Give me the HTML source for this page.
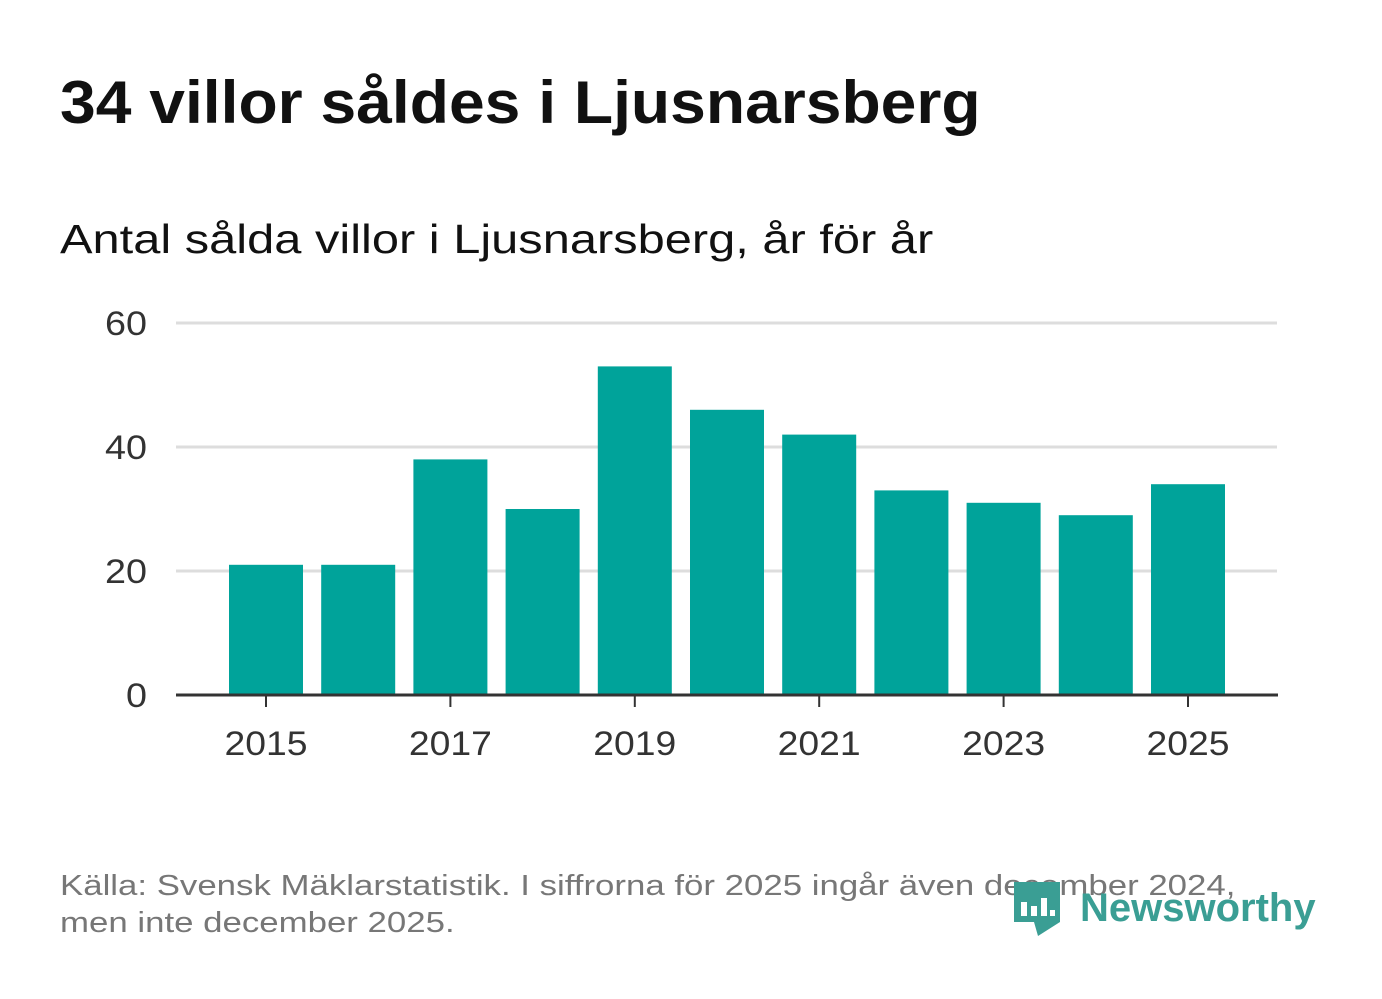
<!DOCTYPE html>
<html><head><meta charset="utf-8"><style>
body{margin:0;width:1382px;height:999px;background:#fff;font-family:"Liberation Sans",sans-serif;overflow:hidden;position:relative}
.t{position:absolute;left:60px;top:68px;font-size:60px;font-weight:bold;color:#111;margin:0;transform:scaleX(1.07);transform-origin:left top;white-space:nowrap}
.s{position:absolute;left:60px;top:216px;font-size:41px;color:#111;transform:scaleX(1.19);transform-origin:left top;white-space:nowrap}
.f{position:absolute;left:60px;top:868px;font-size:29px;color:#777;line-height:37px;transform:scaleX(1.2);transform-origin:left top;white-space:nowrap}
.logo{position:absolute;left:1012px;top:878px;display:flex;align-items:center;color:#3a9e94;font-size:40px;font-weight:bold}
</style></head><body>
<h1 class="t">34 villor såldes i Ljusnarsberg</h1>
<div class="s">Antal sålda villor i Ljusnarsberg, år för år</div>
<svg id="c" width="1382" height="999" style="position:absolute;left:0;top:0"></svg>
<div class="f">Källa: Svensk Mäklarstatistik. I siffrorna för 2025 ingår även december 2024,<br>men inte december 2025.</div>
<div class="logo">
<svg width="50" height="60" viewBox="0 0 50 60"><path d="M2 4h46v40L26 58 22 44H2z" fill="#3a9e94"/><rect x="9" y="24" width="6" height="14" fill="#fff"/><rect x="19" y="28" width="6" height="10" fill="#fff"/><rect x="29" y="20" width="6" height="18" fill="#fff"/><rect x="38" y="32" width="5" height="6" fill="#fff"/></svg>
<span style="margin-left:18px">Newsworthy</span></div>
<script>
const years=[2015,2016,2017,2018,2019,2020,2021,2022,2023,2024,2025];
const values=[21,21,38,30,53,46,42,33,31,29,34];
const yTicks=[0,20,40,60];
const svg=document.getElementById('c');const NS='http://www.w3.org/2000/svg';
const y=v=>695-v*6.2;const x=i=>266+i*92.2;
function mk(t,a){const e=document.createElementNS(NS,t);for(const k in a)e.setAttribute(k,a[k]);svg.appendChild(e);return e;}
yTicks.forEach(v=>{if(v>0){const l=mk('line',{x1:176,x2:1277,y1:y(v),y2:y(v),stroke:'#ddd','stroke-width':3});

}
const s=String(v);
const t=mk('text',{x:147,y:y(v)+12,'text-anchor':'end','font-size':34,fill:'#333','font-family':'Liberation Sans',textLength:21*s.length,lengthAdjust:'spacingAndGlyphs'});t.textContent=s;

});
values.forEach((v,i)=>{const r=mk('rect',{x:x(i)-37,y:y(v),width:74,height:695-y(v),fill:'#00a39a'});


if(years[i]%2){mk('line',{x1:x(i),x2:x(i),y1:695,y2:707,stroke:'#333','stroke-width':2});
const t=mk('text',{x:x(i),y:755,'text-anchor':'middle','font-size':34,fill:'#333','font-family':'Liberation Sans',textLength:83,lengthAdjust:'spacingAndGlyphs'});t.textContent=years[i];

}});
const a=mk('line',{x1:176,x2:1278,y1:695,y2:695,stroke:'#333','stroke-width':3});


</script></body></html>
